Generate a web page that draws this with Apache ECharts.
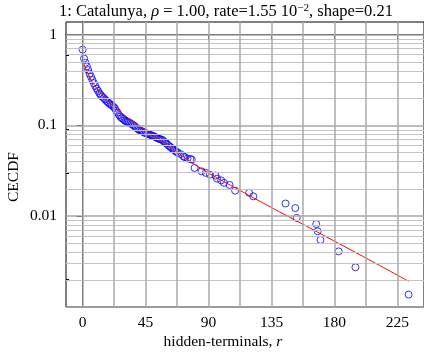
<!DOCTYPE html>
<html>
<head>
<meta charset="utf-8">
<script src="https://cdn.jsdelivr.net/npm/echarts@6/dist/echarts.min.js"></script>
<style>
  html, body { margin: 0; padding: 0; background: #fff; }
  #chart { width: 424px; height: 353px; }
</style>
</head>
<body>
<div id="chart"></div>
<script>
const hiddenR = [0, 1, 2, 3, 4, 5, 6, 7, 8, 9, 10, 11, 12, 13, 14, 15, 16, 17, 18, 19,
  20, 21, 22, 23, 24, 25, 26, 27, 28, 29, 30, 31, 32, 33, 34, 35, 36, 37, 38, 39,
  40, 41, 42, 43, 44, 45, 46, 47, 48, 49, 50, 51, 52, 53, 54, 55, 56, 57, 58, 59,
  60, 61, 62, 63, 64, 65, 66, 67, 68, 70, 72, 73, 75, 77, 78, 80,
  85, 88, 91, 95, 96, 99, 101, 105, 109, 119, 122, 145, 152, 153, 167, 168, 170, 183, 195, 233]
const ccdf = [0.684, 0.545, 0.490, 0.447, 0.407, 0.372, 0.343, 0.316, 0.292, 0.272,
  0.254, 0.240, 0.226, 0.216, 0.207, 0.200, 0.193, 0.186, 0.180, 0.174,
  0.170, 0.166, 0.160, 0.155, 0.145, 0.138, 0.130, 0.124, 0.120, 0.1175,
  0.1135, 0.111, 0.1096, 0.1084, 0.106, 0.1035, 0.101, 0.0989, 0.0955, 0.0923,
  0.0902, 0.0881, 0.0867, 0.0851, 0.0836, 0.0822, 0.0813, 0.0804, 0.0794, 0.0776,
  0.0767, 0.0759, 0.0745, 0.0731, 0.0716, 0.0708, 0.0700, 0.0692, 0.0668, 0.0646,
  0.0631, 0.0610, 0.0589, 0.0575, 0.0556, 0.0543, 0.0525, 0.0513, 0.0501, 0.0484,
  0.0457, 0.0447, 0.0432, 0.0427, 0.0420, 0.0340,
  0.0312, 0.0300, 0.0287, 0.0280, 0.0259, 0.0248, 0.0233, 0.0221, 0.0191, 0.0181,
  0.01656, 0.0138, 0.0123, 0.00958, 0.0082, 0.00682, 0.00548, 0.0041, 0.00274, 0.00137]

// fitted curve (red)
const fitR = [0, 1, 3, 6, 10, 15, 20, 27, 34, 45, 60, 82, 120, 160, 200, 233]
const fitCcdf = [0.50, 0.462, 0.398, 0.316, 0.257, 0.209, 0.174, 0.141, 0.116, 0.0881,
  0.0617, 0.0355, 0.0166, 0.00776, 0.00363, 0.00192]

const xTicks = [0, 45, 90, 135, 180, 225]
const xGrid = [0, 22.5, 45, 67.5, 90, 112.5, 135, 157.5, 180, 202.5, 225]
const yTicks = [0.01, 0.1, 1]
const yDecades = [0.001, 0.01, 0.1, 1]

const lg = v => Math.log10(v)
const yMinor = []
yDecades.forEach(d => { for (let k = 2; k <= 9; k++) yMinor.push(d * k) })

const serif = '"Liberation Serif", "DejaVu Serif", serif'
const chart = echarts.init(document.getElementById('chart'))

chart.setOption({
  animation: false,
  grid: { left: 66, top: 22, right: -2, bottom: 46, show: true, borderColor: '#000', borderWidth: 1 },
  xAxis: {
    type: 'value',
    min: -11.9,
    max: 244,
    splitLine: { show: false },
    axisLine: { lineStyle: { color: '#000', width: 1 } },
    axisTick: { customValues: xTicks, length: 5, lineStyle: { color: '#000' } },
    axisLabel: { customValues: xTicks, margin: 8, color: '#000', fontFamily: serif, fontSize: 15.5 }
  },
  yAxis: [{
    type: 'value',
    min: -3,
    max: 0.139,
    splitLine: { show: false },
    axisLine: { lineStyle: { color: '#000', width: 1 } },
    axisTick: { customValues: yTicks.map(lg), length: 6, lineStyle: { color: '#000' } },
    axisLabel: {
      customValues: yTicks.map(lg),
      margin: 9,
      color: '#000',
      fontFamily: serif,
      fontSize: 15.5,
      formatter: v => String(yTicks.find(t => Math.abs(lg(t) - v) < 1e-6))
    }
  }, {
    type: 'value',
    position: 'left',
    min: -3,
    max: 0.139,
    splitLine: { show: false },
    axisLine: { show: false },
    axisLabel: { show: false },
    axisTick: { customValues: yMinor.map(lg), inside: true, length: 3, lineStyle: { color: '#000' } }
  }],
  graphic: [
    {
      type: 'text',
      x: 226,
      y: 12,
      style: {
        text: '{n|1: Catalunya, }{i|ρ}{n| = 1.00, rate=1.55 10}{s|−2}{n|, shape=0.21}',
        align: 'center',
        verticalAlign: 'middle',
        rich: {
          n: { fontFamily: serif, fontSize: 16.5, fill: '#000' },
          i: { fontFamily: serif, fontSize: 16.5, fontStyle: 'italic', fill: '#000' },
          s: { fontFamily: serif, fontSize: 11, fill: '#000', verticalAlign: 'top', padding: [0, 0, 7, 0] }
        }
      }
    },
    {
      type: 'text',
      x: 223,
      y: 342,
      style: {
        text: '{n|hidden-terminals, }{i|r}',
        align: 'center',
        verticalAlign: 'middle',
        rich: {
          n: { fontFamily: serif, fontSize: 15.5, fill: '#000' },
          i: { fontFamily: serif, fontSize: 15.5, fontStyle: 'italic', fill: '#000' }
        }
      }
    },
    {
      type: 'text',
      x: 14,
      y: 177,
      rotation: Math.PI / 2,
      style: { text: 'CECDF', fontFamily: serif, fontSize: 15.5, fill: '#000', align: 'center', verticalAlign: 'middle' }
    }
  ],
  series: [
    {
      type: 'line',
      data: [],
      z: 1,
      silent: true,
      markLine: {
        silent: true,
        symbol: 'none',
        label: { show: false },
        animation: false,
        data: [
          ...yMinor.map(v => ({ yAxis: lg(v), lineStyle: { color: '#c4c4c4', width: 1.2, type: 'solid' } })),
          ...yDecades.map(v => ({ yAxis: lg(v), lineStyle: { color: '#a6a6a6', width: 1.6, type: 'solid' } })),
          ...xGrid.map(v => ({ xAxis: v, lineStyle: { color: '#aaaaaa', width: 1.5, type: 'solid' } }))
        ]
      }
    },
    {
      type: 'scatter',
      z: 3,
      data: hiddenR.map((r, i) => [r, lg(ccdf[i])]),
      symbol: 'circle',
      symbolSize: 7,
      itemStyle: { color: 'rgba(0,0,0,0)', borderColor: '#0000ff', borderWidth: 1 }
    },
    {
      type: 'line',
      z: 4,
      data: fitR.map((r, i) => [r, lg(fitCcdf[i])]),
      showSymbol: false,
      smooth: 0.3,
      lineStyle: { color: '#ff0000', width: 1 }
    }
  ]
})
</script>
</body>
</html>
